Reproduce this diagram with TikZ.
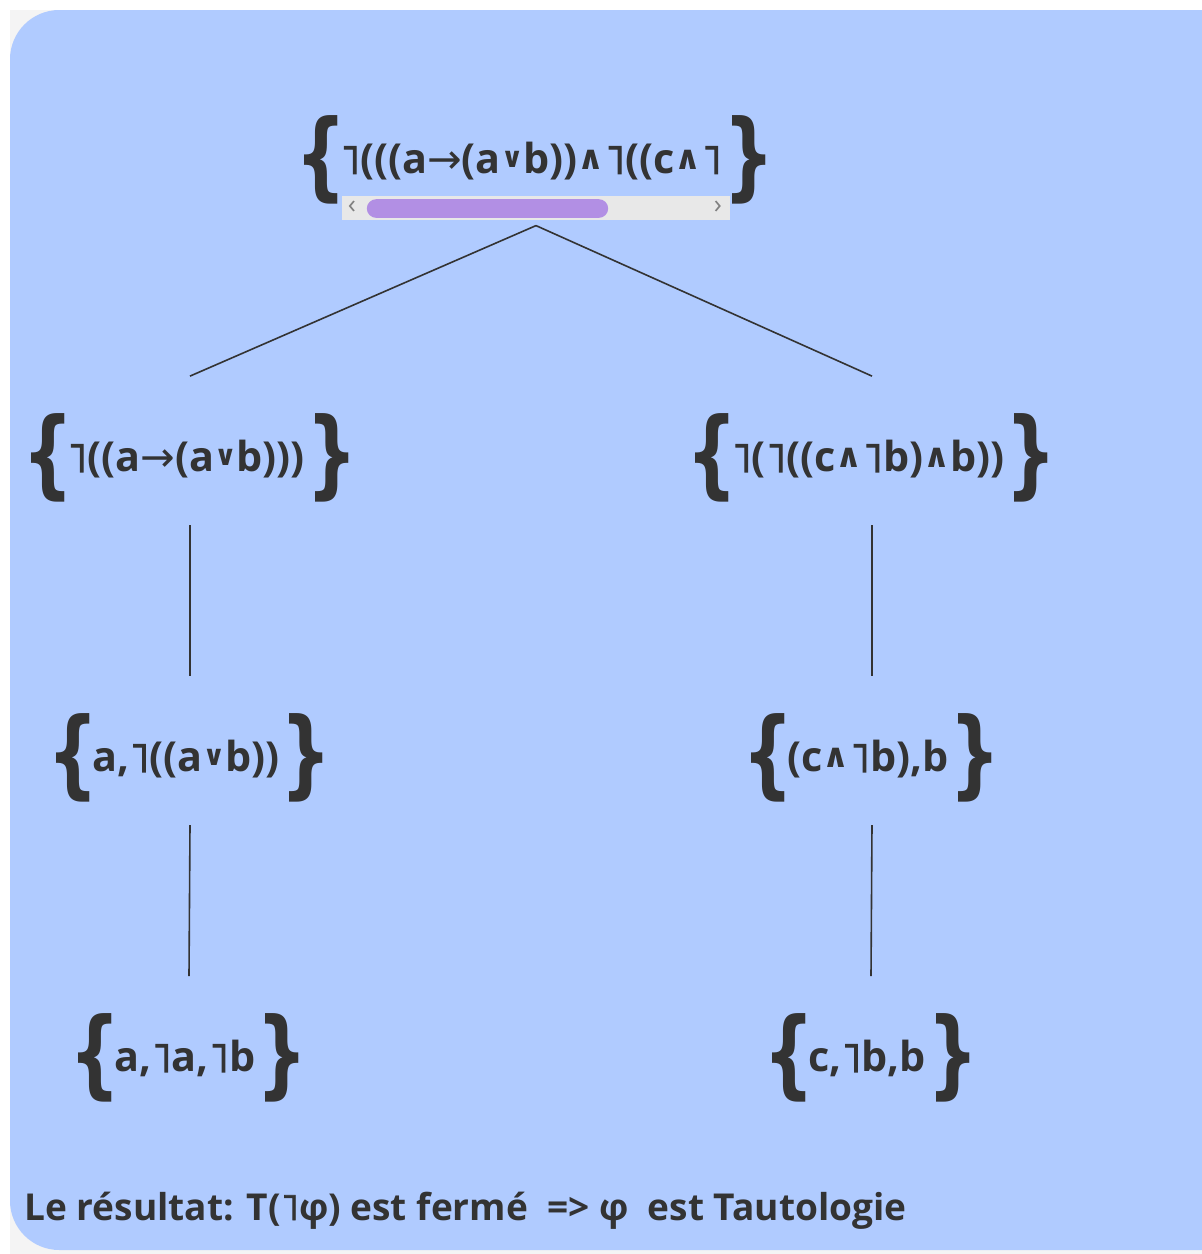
\documentclass[tikz,border=0pt]{standalone}
\usepackage{fontspec}
\usepackage{graphicx}
\usetikzlibrary{positioning}
\newfontfamily\treefont{Open Sans}
\newfontfamily\symfont{DejaVu Sans}
\newfontface\negface{DejaVu Sans}[FakeBold=2.5]
\definecolor{paneBlue}{RGB}{176,203,255}
\definecolor{pageGrey}{RGB}{244,244,244}
\definecolor{inkGrey}{RGB}{51,51,51}
\definecolor{trackGrey}{RGB}{232,232,232}
\definecolor{thumbPurple}{RGB}{178,143,228}
\newcommand{\opneg}{{\negface ˥}}
\newcommand{\opimp}{{\symfont\mdseries →}}
\newcommand{\opor}{\raisebox{5pt}{\symfont\fontsize{21}{21}\selectfont ∨}}
\newcommand{\opand}{\raisebox{3pt}{\symfont\fontsize{25}{25}\selectfont ∧}}
\newcommand{\bracefont}{\symfont\bfseries\fontsize{72}{72}\selectfont}
\newcommand{\setof}[1]{\raisebox{-11pt}{\scalebox{0.75}[1]{\bracefont\{}}\hspace{-5pt}#1\hspace{1pt}\raisebox{-11pt}{\scalebox{0.75}[1]{\bracefont\}}}}
\tikzset{
    treenode/.style={
        inner sep=0pt,
        text=inkGrey,
        font=\treefont\bfseries\fontsize{31}{36}\selectfont
    },
    branch/.style={draw=inkGrey, line width=1.2pt},
    scrollarrow/.style={inner sep=0pt, text=gray, font=\treefont\fontsize{20}{20}\selectfont},
    resultnote/.style={inner sep=0pt, text=inkGrey, font=\treefont\bfseries\fontsize{27.8}{31}\selectfont}
}
\begin{document}
\begin{tikzpicture}[x=0.75pt, y=-0.75pt]
    \useasboundingbox (0,0) rectangle (1202,1254);
    \fill[pageGrey] (10,10) rectangle (1202,1254);
    \fill[paneBlue, rounded corners=37pt] (1240,10) -- (10,10) -- (10,1250) -- (1240,1250);
    \fill[paneBlue] (1150,10) rectangle (1202,1250);

    % racine
    \node[treenode] (root) at (535,160) {\setof{\opneg(((a\opimp(a\opor b))\opand\opneg((c\opand\opneg}};
    \node[fill=trackGrey, minimum width=291pt, minimum height=18pt, inner sep=0pt] (track) at (536,208) {};
    \node[fill=thumbPurple, rounded corners=7pt, minimum width=181pt, minimum height=14pt, inner sep=0pt] (thumb) at (487.5,208.5) {};
    \node[scrollarrow] (prev) at (352,207) {‹};
    \node[scrollarrow] (next) at (718,207) {›};

    % branches
    \node[treenode] (left1) at (190,458) {\setof{\opneg((a\opimp(a\opor b)))}};
    \node[treenode] (right1) at (872,458) {\setof{\opneg(\opneg((c\opand\opneg b)\opand b))}};
    \node[treenode] (left2) at (190,758) {\setof{a,\opneg((a\opor b))}};
    \node[treenode] (right2) at (872,758) {\setof{(c\opand\opneg b),b}};
    \node[treenode] (left3) at (189,1058) {\setof{a,\opneg a,\opneg b}};
    \node[treenode] (right3) at (871,1058) {\setof{c,\opneg b,b}};

    \draw[branch] ([yshift=-4pt]track.south) -- ([yshift=28pt]left1.north);
    \draw[branch] ([yshift=-4pt]track.south) -- ([yshift=28pt]right1.north);
    \draw[branch] ([yshift=-17pt]left1.south) -- ([yshift=28pt]left2.north);
    \draw[branch] ([yshift=-17pt]right1.south) -- ([yshift=28pt]right2.north);
    \draw[branch] ([yshift=-17pt]left2.south) -- ([yshift=28pt]left3.north);
    \draw[branch] ([yshift=-17pt]right2.south) -- ([yshift=28pt]right3.north);

    \node[resultnote, anchor=base west] (result) at (24,1220) {Le résultat: T(\opneg φ) est fermé\ \ => φ\ \ est Tautologie};
\end{tikzpicture}
\end{document}
